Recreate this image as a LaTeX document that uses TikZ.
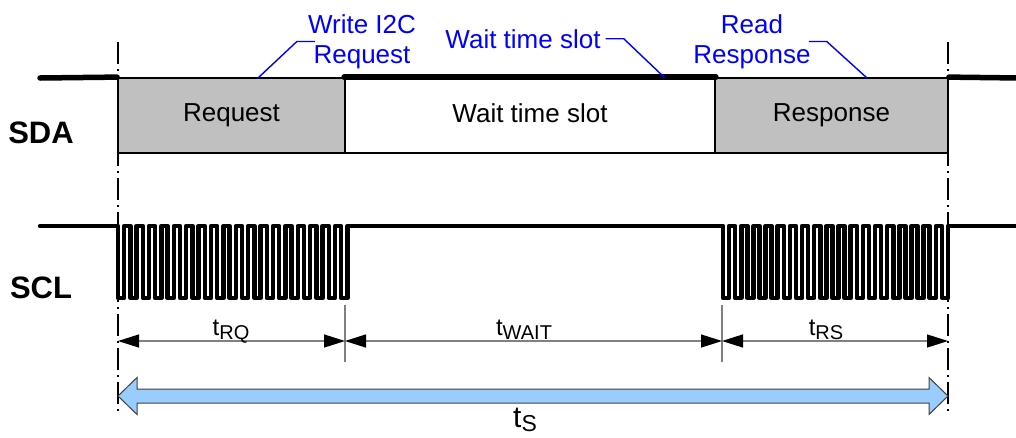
\documentclass[tikz,border=0pt]{standalone}
\usepackage{fontspec}
\setmainfont{Liberation Sans}
\usepackage{tikz}
\usepackage{xcolor}
\usetikzlibrary{arrows.meta}
\definecolor{boxgray}{HTML}{C0C0C0}
\definecolor{arrblue}{HTML}{99CCFF}
\newcommand{\tlab}[3]{{\fontsize{#1}{#1}\selectfont t}\raisebox{-4pt}{\fontsize{#2}{#2}\selectfont #3}}

\begin{document}
\begin{tikzpicture}[x=1pt,y=-1pt,font=\fontsize{26}{30}\selectfont]%
  \tikzstyle{sig}=[line width=5.5,line cap=round,line join=round]
  \tikzstyle{wave}=[line width=4.5,line cap=round,line join=round]
  \tikzstyle{slot}=[rectangle,draw,line width=1.8,inner sep=0,minimum height=75,text depth=5.5pt]
  \tikzstyle{dd}=[line width=1.6,dash pattern=on 22pt off 5pt on 2pt off 5pt]
  \tikzstyle{lead}=[blue,line width=1.4]
  \tikzstyle{lbl}=[blue,align=center,inner sep=0]
  \tikzstyle{dim}=[gray,line width=1.3,{Triangle[length=21pt,width=13pt,color=black]}-{Triangle[length=21pt,width=13pt,color=black]}]
  \tikzstyle{sig name}=[font=\fontsize{31}{31}\selectfont\bfseries,anchor=base,inner sep=0]
  \clip (0,0) rectangle (1016,437);
  % SDA
  \node(rq)[slot,fill=boxgray,minimum width=227] at (231.5,115.5) {Request};
  \node(ws)[slot,fill=white,minimum width=370] at (530,115.5) {Wait time slot};
  \node(rs)[slot,fill=boxgray,minimum width=233] at (831.5,115.5) {Response};
  \coordinate(sdaL) at (40,78);
  \coordinate(sdaR) at (1020,78);
  \draw[sig] (sdaL) -- (rq.north west);
  \draw[sig] (ws.north west) -- (ws.north east);
  \draw[sig] (rs.north east) -- (sdaR);
  \node(sda)[sig name] at (41,143) {SDA};
  % SCL
  \draw[wave] (40,226) -- (118,226)
    \foreach \i in {1,...,19}{ -- ++(0,72) -- ++(6.2,0) -- ++(0,-72) -- ++(6.2,0)}
    -- (723,226)
    \foreach \i in {1,...,19}{ -- ++(0,72) -- ++(6.08,0) -- ++(0,-72) -- ++(6.08,0)}
    -- (1020,226);
  \node(scl)[sig name] at (41,298) {SCL};
  % markers
  \draw[dd] (118,42) -- (118,413);
  \draw[dd] (948,42) -- (948,413);
  % notes
  \node(lw)[lbl] at (362,41.5) {Write I2C\\Request};
  \node(lws)[lbl,anchor=base] at (523,48) {Wait time slot};
  \node(lrr)[lbl] at (752,41.5) {Read\\Response};
  \coordinate(a1) at (258,78);
  \coordinate(a2) at (665,78);
  \coordinate(a3) at (867,78);
  \draw[lead] ([xshift=7]lw.west) -- ++(-18,0) -- (a1);
  \draw[lead] ([xshift=5]lws.east) -- ++(18,0) -- (a2);
  \draw[lead] ([xshift=-2]lrr.east) -- ++(18,0) -- (a3);
  % durations
  \coordinate(d0) at (118,341);
  \coordinate(d1) at (345,341);
  \coordinate(d2) at (722,341);
  \coordinate(d3) at (948,341);
  \draw[gray,line width=1.3] (345,305) -- (345,362) (722,305) -- (722,362);
  \draw[dim] (d0) -- (d1);
  \draw[dim] (d1) -- (d2);
  \draw[dim] (d2) -- (d3);
  \node(trq)[anchor=base,inner sep=0] at (231,335) {\tlab{24}{20}{RQ}};
  \node(twt)[anchor=base,inner sep=0] at (524,335) {\tlab{24}{20}{WAIT}};
  \node(trs)[anchor=base,inner sep=0] at (826,335) {\tlab{24}{20}{RS}};
  \draw[fill=arrblue,draw=black!75,line width=1] (118,396) -- (137,377.5) -- (137,389) -- (929,389)
    -- (929,377.5) -- (948,396) -- (929,414.5) -- (929,403) -- (137,403) -- (137,414.5) -- cycle;
  \node(ts)[anchor=base,inner sep=0] at (525,427) {\tlab{30}{23}{S}};
\end{tikzpicture}
\end{document}
